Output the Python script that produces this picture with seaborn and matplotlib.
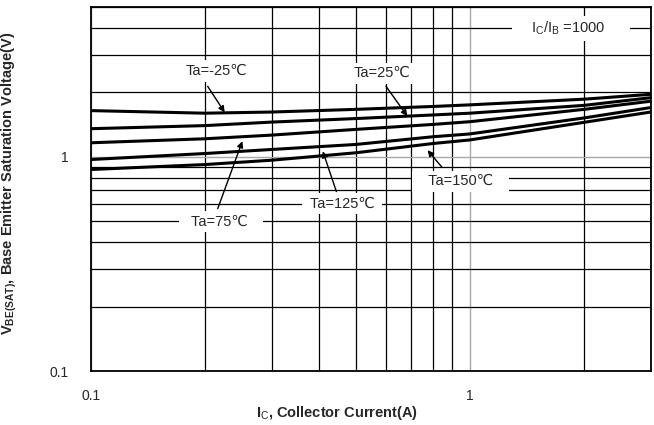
import matplotlib
matplotlib.use("Agg")
import matplotlib.pyplot as plt
import matplotlib.ticker as mticker
import pandas as pd
import seaborn as sns

# collector current (A) and V_BE(sat) (V)
ic_values = [0.1, 0.2, 0.3, 0.5, 0.8, 1.0, 2.0, 3.0]
vbe_m25 = [1.645, 1.60, 1.62, 1.667, 1.72, 1.75, 1.86, 1.96]
vbe_25 = [1.354, 1.40, 1.454, 1.51, 1.57, 1.60, 1.74, 1.89]
vbe_75 = [1.164, 1.215, 1.264, 1.344, 1.418, 1.46, 1.667, 1.82]
vbe_125 = [0.972, 1.037, 1.083, 1.143, 1.242, 1.28, 1.52, 1.70]
vbe_150 = [0.873, 0.921, 0.965, 1.045, 1.155, 1.20, 1.45, 1.62]
temps = ["Ta=-25℃", "Ta=25℃", "Ta=75℃", "Ta=125℃", "Ta=150℃"]

x_ticks = [0.1, 1]
x_ticklabels = ["0.1", "1"]
y_ticks = [0.1, 1]
y_ticklabels = ["0.1", "1"]

sns.set_style("white")
plt.rcParams["font.family"] = ["Liberation Sans", "DejaVu Sans"]
plt.rcParams["mathtext.fontset"] = "custom"
plt.rcParams["mathtext.rm"] = "Liberation Sans"
plt.rcParams["mathtext.bf"] = "Liberation Sans:bold"

df = pd.DataFrame({
    "Ic": ic_values * 5,
    "Vbe": vbe_m25 + vbe_25 + vbe_75 + vbe_125 + vbe_150,
    "Ta": [t for t in temps for _ in ic_values],
})

fig = plt.figure(figsize=(6.54, 4.25), dpi=100)
ax = fig.add_axes([0.1387, 0.127, 0.8563, 0.856])

sns.lineplot(data=df, x="Ic", y="Vbe", hue="Ta", palette=["black"] * 5,
             linewidth=2.2, legend=False, ax=ax, zorder=2)

ax.set_xscale("log")
ax.set_yscale("log")
ax.set_xlim(0.1, 3)
ax.set_ylim(0.1, 5)

ax.set_xticks(x_ticks)
ax.set_xticklabels(x_ticklabels)
ax.set_yticks(y_ticks)
ax.set_yticklabels(y_ticklabels)
ax.xaxis.set_minor_locator(mticker.LogLocator(base=10, subs=range(2, 10)))
ax.yaxis.set_minor_locator(mticker.LogLocator(base=10, subs=range(2, 10)))
ax.xaxis.set_minor_formatter(mticker.NullFormatter())
ax.yaxis.set_minor_formatter(mticker.NullFormatter())
ax.tick_params(which="both", length=0, labelsize=10)
ax.tick_params(axis="x", pad=13)
ax.tick_params(axis="y", pad=16)

ax.set_axisbelow(True)
ax.grid(which="minor", color="black", linewidth=0.9)
ax.grid(which="major", color="#a8a8a8", linewidth=1.0)
for sp in ax.spines.values():
    sp.set_color("black")
    sp.set_linewidth(1.3)

ax.set_xlabel(r"I$_\mathrm{C}$, Collector Current(A)", fontsize=10.5,
              family=["Liberation Sans Narrow", "Liberation Sans"],
              fontweight="bold")
ax.xaxis.set_label_coords(0.44, -0.09)
ax.set_ylabel(r"V$_{\mathbf{BE(SAT)}}$, Base Emitter Saturation Voltage(V)",
              fontsize=10.5, fontweight="bold")
ax.yaxis.set_label_coords(-0.128, 0.517)

box = dict(boxstyle="square,pad=0.25", facecolor="white", edgecolor="none")
txt = dict(fontsize=10.5, ha="center", va="center", bbox=box, zorder=4)

ax.text(1.85, 3.99, r"    I$_\mathrm{C}$/I$_\mathrm{B}$ =1000      ", **txt)
ax.text(0.2142, 2.52, temps[0], **txt)
ax.text(0.5866, 2.457, temps[1], **txt)
ax.text(0.2209, 0.4983, "  " + temps[2] + "   ", **txt)
ax.text(0.461, 0.605, " " + temps[3] + " ", **txt)
ax.text(0.947, 0.7694, "   " + temps[4] + "   ", **txt)

arrows = [
    ((0.2256, 1.614), (0.2035, 2.136)),
    ((0.684, 1.551), (0.601, 2.136)),
    ((0.2512, 1.184), (0.2163, 0.5735)),
    ((0.4094, 1.063), (0.4446, 0.689)),
    ((0.7735, 1.075), (0.8455, 0.892)),
]
for tip, start in arrows:
    ax.annotate("", xy=tip, xytext=start, zorder=5,
                arrowprops=dict(arrowstyle="-|>", color="black", lw=1.0,
                                mutation_scale=9, shrinkA=0, shrinkB=0))

fig.savefig("out.png", dpi=100)
